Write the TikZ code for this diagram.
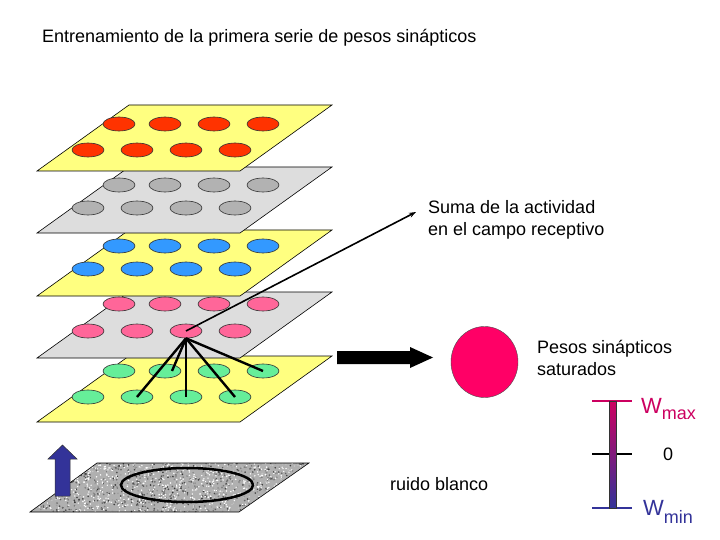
\documentclass[tikz,border=0pt]{standalone}
\usepackage{fontspec}
\setmainfont{Liberation Sans}
\usepackage{tikz}
\usetikzlibrary{shapes.geometric,arrows.meta}
\definecolor{sheetyellow}{HTML}{FFFF80}
\definecolor{sheetgray}{HTML}{DDDDDD}
\definecolor{cellred}{HTML}{FF3300}
\definecolor{cellgray}{HTML}{B2B2B2}
\definecolor{cellblue}{HTML}{3399FF}
\definecolor{cellpink}{HTML}{FF6699}
\definecolor{cellgreen}{HTML}{66EE99}
\definecolor{satpink}{HTML}{FF0066}
\definecolor{wmaxc}{HTML}{CC0060}
\definecolor{wminc}{HTML}{333399}
\definecolor{noisegray}{HTML}{B0B0B0}

\begin{document}
\begin{tikzpicture}[x=1pt,y=-1pt,font=\fontsize{18}{22}\selectfont,sheet/.style={draw=black,line width=0.6pt},cell/.style={ellipse,draw=black!80,line width=0.6pt,minimum width=32pt,minimum height=14pt,inner sep=0pt},txt/.style={anchor=base west,inner sep=0pt,align=left},link/.style={line width=2.4pt,black},tick/.style={line width=2pt}]
\useasboundingbox (0,0) rectangle (720,540);
\node[txt] (title) at (42,43) {Entrenamiento de la primera serie de pesos sinápticos};
\foreach \n/\t/\ra/\rb/\pl/\el in {g/356/371/397/sheetyellow/cellgreen,p/292/304/331/sheetgray/cellpink,b/230/246/269/sheetyellow/cellblue,s/167/185/208/sheetgray/cellgray,r/105/124/150/sheetyellow/cellred}{
\filldraw[sheet,fill=\pl] (37,\t+66) -- ++(203,0) -- ++(92,-66) -- ++(-203,0) -- cycle;
\foreach \i/\xa/\xb in {1/119/88,2/165/137,3/214/186,4/263/235}{
\node[cell,fill=\el] (\n-1-\i) at (\xa,\ra) {};
\node[cell,fill=\el] (\n-2-\i) at (\xb,\rb) {};
}}
\draw[link] (p-2-3.south) -- (g-2-2.center);
\draw[link] (p-2-3.south) -- ([xshift=7pt]g-1-2.center);
\draw[link] (p-2-3.south) -- (g-2-3.center);
\draw[link] (p-2-3.south) -- (g-2-4.center);
\draw[link] (p-2-3.south) -- (g-1-4.center);
\coordinate (sumtip) at (416,212);
\draw[line width=1.6pt,-{Stealth[length=7pt,width=5pt]}] (p-2-3.center) -- (sumtip);
\node[txt,anchor=north west] (suma) at (428,200) {Suma de la actividad\\en el campo receptivo};
\fill[black] (337,351) -- (410,351) -- (410,347) -- (433,357.5) -- (410,368) -- (410,364) -- (337,364) -- cycle;
\node[ellipse,draw=black!70,fill=satpink,minimum width=67pt,minimum height=71pt,inner sep=0pt] (sat) at (484.5,362) {};
\node[txt,anchor=north west] (pesos) at (537,340) {Pesos sinápticos\\saturados};
\draw[tick,wmaxc] (592,401) -- (632,401);
\draw[tick,black] (592,454) -- (632,454);
\draw[tick,wminc] (592,508) -- (632,508);
\shade[top color=wmaxc,bottom color=wminc,draw=black!80,line width=0.5pt] (609,401) rectangle (616,508);
\node[txt,text=wmaxc] (wmax) at (641,413) {{\fontsize{22}{22}\selectfont W}\raisebox{-6pt}{max}};
\node (zero) at (668,454) {0};
\node[txt,text=wminc] (wmin) at (643,515) {{\fontsize{22}{22}\selectfont W}\raisebox{-8pt}{min}};
\begin{scope}
\clip (30,512) -- (239,512) -- (309,463) -- (97,463) -- cycle;
\fill[noisegray] (30,512) -- (239,512) -- (309,463) -- (97,463) -- cycle;
\pgfmathsetseed{11}
\foreach \k in {1,...,900}{
\pgfmathsetmacro{\u}{rnd}\pgfmathsetmacro{\v}{rnd}\pgfmathsetmacro{\g}{20+60*rnd}
\fill[black!\g] (30+209*\u+67*\v,512-49*\v) circle (0.9);
}
\pgfmathsetseed{23}
\foreach \k in {1,...,500}{
\pgfmathsetmacro{\u}{rnd}\pgfmathsetmacro{\v}{rnd}
\fill[white] (30+209*\u+67*\v,512-49*\v) circle (0.8);
}
\end{scope}
\draw[sheet] (30,512) -- (239,512) -- (309,463) -- (97,463) -- cycle;
\node[ellipse,draw=black,line width=2.5pt,minimum width=132pt,minimum height=34pt,inner sep=0pt] (field) at (187,485) {};
\filldraw[fill=wminc,draw=black!80,line width=0.5pt] (55,496) -- (55,459) -- (48,459) -- (62.5,445) -- (77,459) -- (70,459) -- (70,496) -- cycle;
\node[txt] (ruido) at (390,490) {ruido blanco};
\end{tikzpicture}
\end{document}
